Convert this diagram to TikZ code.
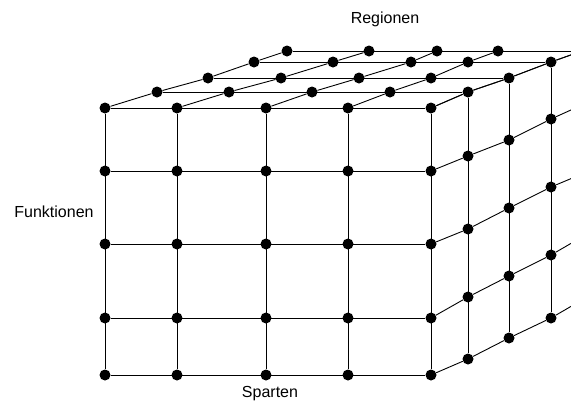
\documentclass[tikz,border=0pt]{standalone}
\usepackage{fontspec}
\setmainfont{Liberation Sans}
\usetikzlibrary{positioning, calc}

\begin{document}
\begin{tikzpicture}[x=1pt, y=-1pt,
		dot/.style={circle, fill=black, draw=none, inner sep=0pt, minimum size=11pt},
		gridline/.style={line width=0.9pt, black},
		axislabel/.style={font=\fontsize{16}{18}\selectfont, anchor=base, inner sep=0pt}]
		\useasboundingbox (0,0) rectangle (571,400);
		\clip (0,0) rectangle (571,400);
		% front face (depth 1)
		\foreach \x [count=\i] in {105,177,266,348,431}
			\foreach \y [count=\j] in {108,171,244,318,375}
				\node[dot] (n_\i_\j_1) at (\x,\y) {};
		% top face, depth 2 to 5
		\foreach \y/\xs [count=\d from 2] in {92/{157,229,312,390,468}, 78/{208,281,359,431,509}, 62/{254,333,411,468,551}, 51/{287,369,437,498,582}}
			\foreach \x [count=\i] in \xs
				\node[dot] (n_\i_1_\d) at (\x,\y) {};
		% right face, depth 2 to 5
		\foreach \x/\ys [count=\d from 2] in {468/{156,229,297,359}, 509/{140,208,276,338}, 551/{119,187,255,318}, 582/{105,174,237,300}}
			\foreach \y [count=\j from 2] in \ys
				\node[dot] (n_5_\j_\d) at (\x,\y) {};
		% grid lines
		\foreach \k in {1,...,5} {
			\draw[gridline] (n_1_\k_1) -- (n_5_\k_1);
			\draw[gridline] (n_\k_1_1) -- (n_\k_5_1);
			\draw[gridline] (n_1_1_\k) -- (n_5_1_\k);
			\draw[gridline] (n_5_1_\k) -- (n_5_5_\k);
			\draw[gridline] (n_\k_1_1) -- (n_\k_1_2) -- (n_\k_1_3) -- (n_\k_1_4) -- (n_\k_1_5);
			\draw[gridline] (n_5_\k_1) -- (n_5_\k_2) -- (n_5_\k_3) -- (n_5_\k_4) -- (n_5_\k_5);
		}
		% axis labels
		\node[axislabel] (regionen) at (385,23) {Regionen};
		\node[axislabel] (funktionen) at (54,217) {Funktionen};
		\node[axislabel] (sparten) at (270,397) {Sparten};
	\end{tikzpicture}
\end{document}
